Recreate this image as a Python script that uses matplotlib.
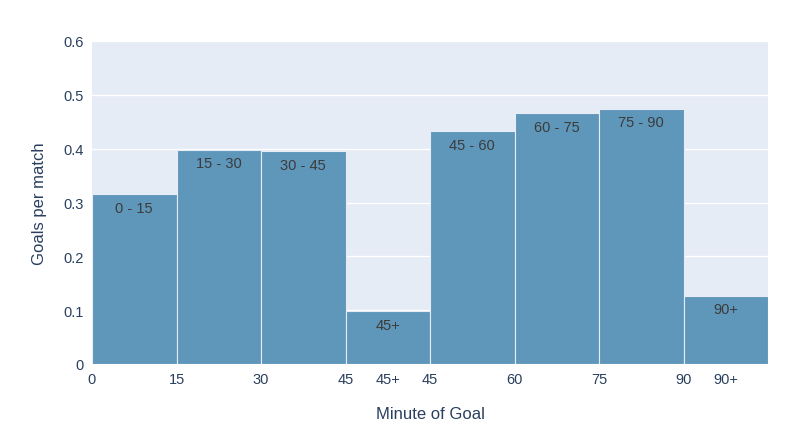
import matplotlib
matplotlib.use("Agg")
import matplotlib.pyplot as plt

labels = ["0 - 15", "15 - 30", "30 - 45", "45+", "45 - 60", "60 - 75", "75 - 90", "90+"]
values = [0.315, 0.398, 0.395, 0.098, 0.432, 0.466, 0.474, 0.127]
tick_pos = [0, 1, 2, 3, 3.5, 4, 5, 6, 7, 7.5]
tick_labels = ["0", "15", "30", "45", "45+", "45", "60", "75", "90", "90+"]

plt.rcParams['font.family'] = ['Liberation Sans', 'DejaVu Sans']
fig = plt.figure(figsize=(8.09, 4.39), dpi=100)
ax = fig.add_axes([92/809, 1-365/439, (768-92)/809, (365-42)/439])
ax.set_facecolor('#E5ECF6')
ax.set_axisbelow(True)
ax.grid(axis='y', color='white', linewidth=1)
xs = [i + 0.5 for i in range(len(values))]
ax.bar(xs, values, width=1.0, color='#5F97BB', edgecolor='#E5ECF6', linewidth=0.8)
for x, v, l in zip(xs, values, labels):
    ax.text(x, v - 0.012, l, ha='center', va='top', fontsize=10.5, color='#3b3b3b')
ax.set_xlim(0, 8)
ax.set_ylim(0, 0.6)
ax.set_yticks([0, 0.1, 0.2, 0.3, 0.4, 0.5, 0.6])
ax.set_yticklabels(["0", "0.1", "0.2", "0.3", "0.4", "0.5", "0.6"])
ax.set_xticks(tick_pos)
ax.set_xticklabels(tick_labels)
ax.tick_params(colors='#2a3f5f', labelsize=10.5, length=0, pad=6)
for s in ax.spines.values():
    s.set_visible(False)
ax.set_xlabel("Minute of Goal", fontsize=12, color='#2a3f5f', labelpad=14)
ax.set_ylabel("Goals per match", fontsize=12, color='#2a3f5f', labelpad=12)
fig.savefig("out.png", dpi=100, facecolor='white')
